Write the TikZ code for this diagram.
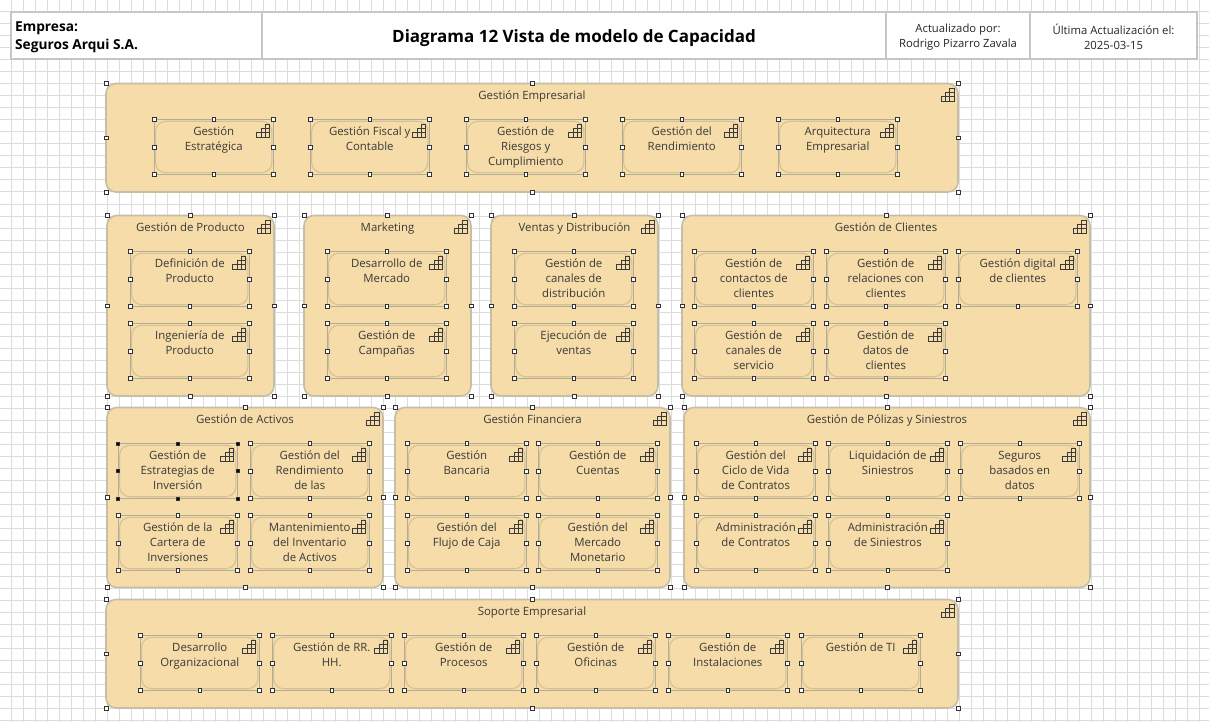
\documentclass[tikz,border=0pt]{standalone}
\usepackage{fontspec}
\setmainfont{Open Sans}
\definecolor{capfill}{HTML}{F5DCA8}
\definecolor{capline}{HTML}{C6BEA6}
\definecolor{capsoft}{HTML}{D3C196}
\definecolor{captext}{HTML}{3A3A3A}
\definecolor{gridline}{HTML}{DCDCDC}
\definecolor{headline}{HTML}{C6C6C6}

\tikzset{
  capgroup/.style={draw=capline, line width=1.6pt, fill=capfill, rounded corners=10pt,
    anchor=north west, inner sep=0pt, outer sep=0pt},
  capbox/.style={draw=capline!90!black, line width=1pt, anchor=north west, inner sep=0pt,
    outer sep=0pt, minimum width=119.5pt, minimum height=55pt},
  capinner/.style={draw=capsoft, line width=1.1pt, rounded corners=10pt},
  caplabel/.style={text=captext, anchor=north, align=center, inner sep=0pt,
    font=\fontsize{11.4}{15}\selectfont},
  grip/.style={draw=black!80, fill=white, line width=.6pt, inner sep=0pt, minimum size=3.8pt},
  gripon/.style={grip, fill=black, minimum size=3pt},
  headcell/.style={draw=headline, line width=1.6pt, fill=white, anchor=north west,
    inner sep=0pt, outer sep=0pt, minimum height=47pt},
  headtext/.style={text=black!85, align=center, inner sep=0pt,
    font=\fontsize{11.3}{15}\selectfont},
  capicon/.pic={
    \draw[captext, line width=.6pt]
      (-6.5,6.5) rectangle (6.5,2.2) (-2.2,2.2) rectangle (6.5,-2.1) (2.1,-2.1) rectangle (6.5,-6.4)
      (-2.2,6.5) -- (-2.2,2.2) (2.1,6.5) -- (2.1,-2.1);
  }
}

% handles round a node: eight small squares
\newcommand{\grips}[2][grip]{
  \foreach \a/\b in {north west/nw,north/n,north east/ne,east/e,south east/se,south/s,south west/sw,west/w}
    \node[#1] (#2-\b) at (#2.\a) {};
}
% #2 name, #3 x, #4 y, #5 width, #6 height, #7 title
\newcommand{\capgroup}[7][]{
  \node[capgroup, minimum width=#5pt, minimum height=#6pt] (#2) at (#3,#4) {};
  \node[caplabel] (#2-title) at ([yshift=-4.5pt]#2.north) {\rule{0pt}{11pt}#7};
  \path ([xshift=-10.5pt,yshift=-11pt]#2.north east) pic {capicon};
  \grips{#2}
}
\newcommand{\capitem}[5][grip]{
  \node[capbox] (#2) at (#3,#4) {};
  \draw[capinner] ([shift={(1.6pt,-1.8pt)}]#2.north west) rectangle ([shift={(-1.6pt,1.8pt)}]#2.south east);
  \node[caplabel] (#2-title) at ([yshift=-4.7pt]#2.north) {\rule{0pt}{11pt}#5};
  \path ([xshift=-10.5pt,yshift=-11pt]#2.north east) pic {capicon};
  \grips[#1]{#2}
}

\begin{document}
\begin{tikzpicture}[x=1pt, y=-1pt]
  \useasboundingbox (0,0) rectangle (1209,722);
  % page grid
  \foreach \x in {-1,11,...,1209} \draw[gridline, line width=1pt] (\x,0) -- (\x,722);
  \foreach \y in {0,12,...,722} \draw[gridline, line width=1pt] (0,\y) -- (1209,\y);

  % header
  \node[headcell, minimum width=251pt] (hEmpresa) at (11,12) {};
  \node[headcell, minimum width=624pt] (hTitulo) at (262,12) {};
  \node[headcell, minimum width=144pt] (hAutor) at (886,12) {};
  \node[headcell, minimum width=167pt] (hFecha) at (1030,12) {};
  \node[headtext, anchor=west, align=left, text=black, font=\fontsize{13.7}{18}\selectfont\bfseries]
    (tEmpresa) at ([xshift=4pt,yshift=-1.5pt]hEmpresa.west) {Empresa:\\Seguros Arqui S.A.};
  \node[headtext, text=black, font=\fontsize{17}{18}\selectfont\bfseries] (tTitulo) at ([yshift=-3pt]hTitulo.center) {Diagrama 12 Vista de modelo de Capacidad};
  \node[headtext] (tAutor) at ([yshift=-1.5pt]hAutor.center) {Actualizado por:\\Rodrigo Pizarro Zavala};
  \node[headtext] (tFecha) at ([yshift=-1.5pt]hFecha.center) {Última Actualización el:\\2025-03-15};

  % groups
  \capgroup{gEmpresarial}{106}{83.5}{852}{108.5}{Gestión Empresarial}
  \capgroup{gProducto}{107}{215.5}{167}{180.5}{Gestión de Producto}
  \capgroup{gMarketing}{304}{215.5}{167}{180.5}{Marketing}
  \capgroup{gVentas}{491}{215.5}{167}{180.5}{Ventas y Distribución}
  \capgroup{gClientes}{682}{215.5}{408}{180.5}{Gestión de Clientes}
  \capgroup{gActivos}{107}{407.5}{276}{180}{Gestión de Activos}
  \capgroup{gFinanciera}{395}{407.5}{275}{180}{Gestión Financiera}
  \capgroup{gPolizas}{684}{407.5}{406}{180}{Gestión de Pólizas y Siniestros}
  \capgroup{gSoporte}{106}{599.5}{852}{108.5}{Soporte Empresarial}

  % capabilities
  \foreach \id/\x/\y/\txt in {
    eEstrategica/154/119.5/{Gestión\\Estratégica},
    eFiscal/310/119.5/{Gestión Fiscal y\\Contable},
    eRiesgos/466/119.5/{Gestión de\\Riesgos y\\Cumplimiento},
    eRendimiento/622/119.5/{Gestión del\\Rendimiento},
    eArquitectura/778/119.5/{Arquitectura\\Empresarial},
    pDefinicion/130/251.5/{Definición de\\Producto},
    pIngenieria/130/323.5/{Ingeniería de\\Producto},
    mDesarrollo/327/251.5/{Desarrollo de\\Mercado},
    mCampanas/327/323.5/{Gestión de\\Campañas},
    vCanales/514/251.5/{Gestión de\\canales de\\distribución},
    vEjecucion/514/323.5/{Ejecución de\\ventas},
    cContactos/694/251.5/{Gestión de\\contactos de\\clientes},
    cRelaciones/826/251.5/{Gestión de\\relaciones con\\clientes},
    cDigital/958/251.5/{Gestión digital\\de clientes},
    cServicio/694/323.5/{Gestión de\\canales de\\servicio},
    cDatos/826/323.5/{Gestión de\\datos de\\clientes},
    aRendimiento/250/443.5/{Gestión del\\Rendimiento\\de las},
    aCartera/118/515.5/{Gestión de la\\Cartera de\\Inversiones},
    aInventario/250/515.5/{Mantenimiento\\del Inventario\\de Activos},
    fBancaria/407/443.5/{Gestión\\Bancaria},
    fCuentas/538/443.5/{Gestión de\\Cuentas},
    fFlujo/407/515.5/{Gestión del\\Flujo de Caja},
    fMercado/538/515.5/{Gestión del\\Mercado\\Monetario},
    sCiclo/696/443.5/{Gestión del\\Ciclo de Vida\\de Contratos},
    sLiquidacion/828/443.5/{Liquidación de\\Siniestros},
    sDatos/960/443.5/{Seguros\\basados en\\datos},
    sContratos/696/515.5/{Administración\\de Contratos},
    sSiniestros/828/515.5/{Administración\\de Siniestros},
    oDesarrollo/140/635.5/{Desarrollo\\Organizacional},
    oHumanos/272/635.5/{Gestión de RR.\\HH.},
    oProcesos/404/635.5/{Gestión de\\Procesos},
    oOficinas/536/635.5/{Gestión de\\Oficinas},
    oInstalaciones/668/635.5/{Gestión de\\Instalaciones},
    oTI/801/635.5/{Gestión de TI}}
    {\capitem{\id}{\x}{\y}{\txt}}
  % the one selected
  \capitem[gripon]{aEstrategias}{118}{443.5}{Gestión de\\Estrategias de\\Inversión}
\end{tikzpicture}
\end{document}
